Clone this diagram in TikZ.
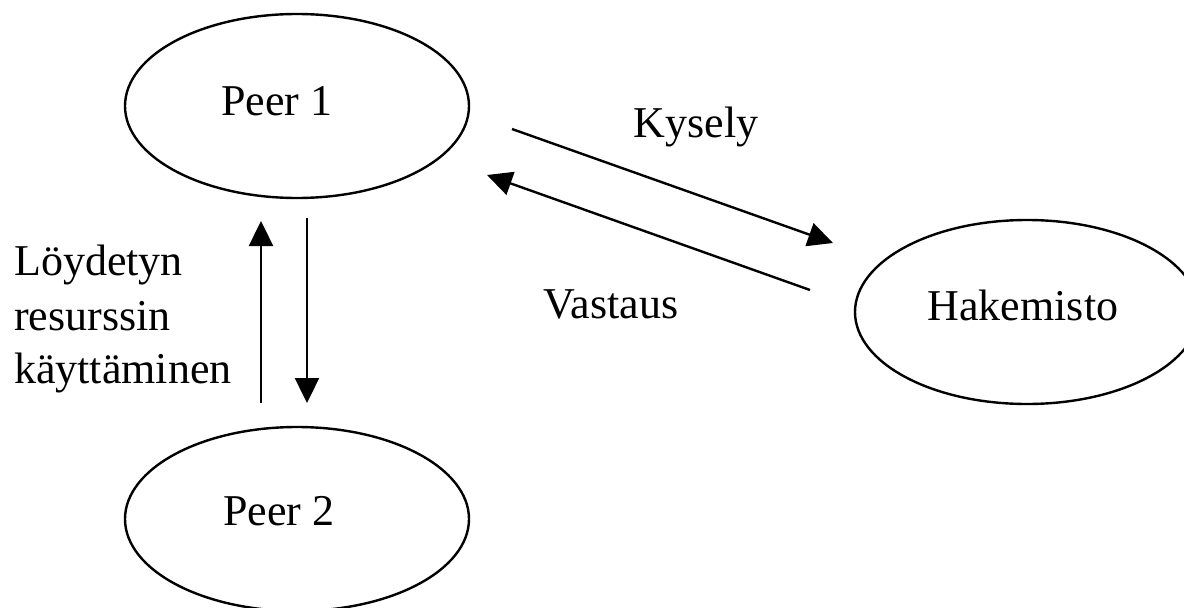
\documentclass[tikz,border=0pt]{standalone}
\usepackage{fontspec}
\setmainfont{Liberation Serif}
\usetikzlibrary{shapes.geometric,arrows.meta}
\begin{document}
\begin{tikzpicture}[x=1pt,y=-1pt,
  peer/.style={draw,ellipse,line width=2.4pt,minimum width=344pt,minimum height=184pt,inner sep=0pt},
  lbl/.style={anchor=base,inner sep=0pt,font=\fontsize{44}{54}\selectfont},
  flow/.style={line width=2.4pt,-{Triangle[length=25pt,width=24pt]}}]
\clip (0,0) rectangle (1184,608);
\fill[white] (0,0) rectangle (1184,608);

% the three parties
\node[peer] (p1) at (297,106) {};
\node[peer] (p2) at (297,519) {};
\node[peer] (hk) at (1027,312) {};
\node[lbl] (p1t) at (277,115) {Peer 1};
\node[lbl] (p2t) at (279,525) {Peer 2};
\node[lbl] (hkt) at (1023,320) {Hakemisto};

% message labels
\node[lbl] (kys) at (696,137) {Kysely};
\node[lbl] (vas) at (611,318) {Vastaus};
\node[lbl,anchor=base west] (use) at (14,275) {Löydetyn};
\node[lbl,anchor=base west] (use2) at (14,330) {resurssin};
\node[lbl,anchor=base west] (use3) at (14,383) {käyttäminen};

% arrow end points
\coordinate (upA) at (261,403);
\coordinate (upB) at (261,221);
\coordinate (dnA) at (307,218);
\coordinate (dnB) at (307,403);
\coordinate (qA) at (512,129);
\coordinate (qB) at (833,243);
\coordinate (rA) at (810,290);
\coordinate (rB) at (487,175);

\draw[flow] (upA) -- (upB);
\draw[flow] (dnA) -- (dnB);
\draw[flow] (qA) -- (qB);
\draw[flow] (rA) -- (rB);
\end{tikzpicture}
\end{document}
